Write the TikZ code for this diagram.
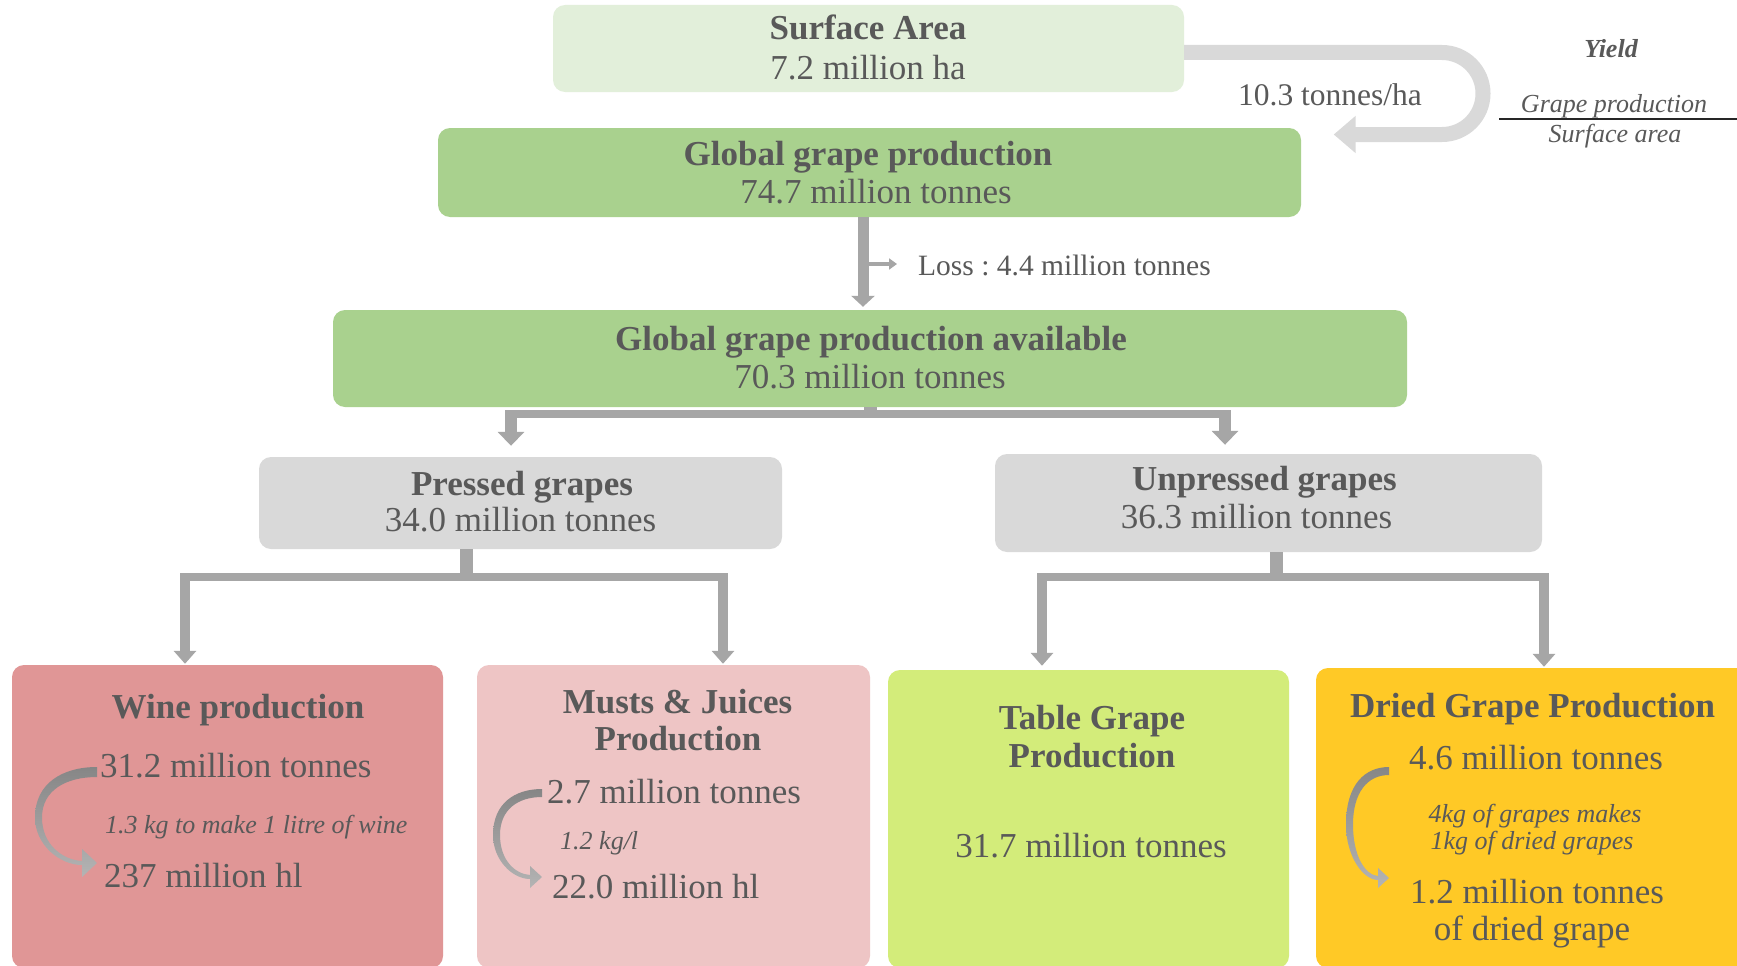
\documentclass[tikz,border=0pt]{standalone}
\usepackage{fontspec}
\setmainfont{Liberation Serif}
\usetikzlibrary{arrows.meta}
\frenchspacing
\definecolor{txt}{HTML}{595959}
\definecolor{csurf}{HTML}{E2EFDA}
\definecolor{cgreen}{HTML}{A9D18E}
\definecolor{cgray}{HTML}{D9D9D9}
\definecolor{cwine}{HTML}{E09696}
\definecolor{cmust}{HTML}{EEC5C5}
\definecolor{ctable}{HTML}{D3EC7A}
\definecolor{cdried}{HTML}{FFC926}
\definecolor{arrgray}{HTML}{A6A6A6}
\definecolor{udark}{HTML}{D9D9D9}
\definecolor{arrdark}{HTML}{868686}
\definecolor{arrlight}{HTML}{B4B4B4}
\newcommand\bendarr[7]{%
  \pgfmathsetmacro\bB{#1-#6}%
  \pgfmathsetmacro\bw{#1-#3}%
  \pgfmathsetmacro\bh{#4-#2}%
  \shade[top color=arrdark,bottom color=arrlight]
    (#1,#2-#7) .. controls (#3+0.45*\bw,#2-#7) and (#3,#2+0.12*\bh) .. (#3,#2+0.5*\bh)
    .. controls (#3,#2+0.8*\bh) and (#3+0.4*\bw,#4+2) .. (\bB,#4+2)
    -- (\bB,#4+#5) -- (#1,#4) -- (\bB,#4-#5) -- (\bB,#4-2)
    .. controls (#3+0.45*\bw,#4-3) and (#3+7,#2+0.8*\bh) .. (#3+7,#2+0.5*\bh)
    .. controls (#3+7,#2+0.2*\bh) and (#3+0.5*\bw,#2+#7) .. (#1,#2+#7) -- cycle;}
\tikzset{
  box/.style={rectangle, rounded corners=12pt, inner sep=0pt, draw=none},
  tx/.style={text=txt, inner sep=0pt, anchor=base, font=\fontsize{35}{40}\selectfont},
  tb/.style={tx, font=\fontsize{35}{40}\selectfont\bfseries},
  ti/.style={tx, font=\fontsize{26}{30}\selectfont\itshape},
  uturn/.style={draw=udark, line width=15pt, -{Triangle[width=36pt,length=22pt]}},
  lossarr/.style={draw=arrgray, line width=11pt, -{Triangle[width=23pt,length=11pt]}},
  smallarr/.style={draw=arrgray, line width=4.5pt, -{Triangle[width=11pt,length=8pt]}},
  barline/.style={draw=arrgray, line width=8pt},
  stubline/.style={draw=arrgray, line width=13pt},
  bigdown/.style={draw=arrgray, line width=12pt, -{Triangle[width=26pt,length=14pt]}},
  smalldown/.style={draw=arrgray, line width=10pt, -{Triangle[width=22pt,length=13pt]}},
}
\begin{document}
\begin{tikzpicture}[x=1pt,y=-1pt]
\useasboundingbox (0,0) rectangle (1737,966);
\clip (0,0) rectangle (1737,966);
\fill[white] (0,0) rectangle (1737,966);

% boxes
\node[box, fill=csurf, minimum width=631pt, minimum height=87pt] (surf) at (868.5,48.5) {};
\node[box, fill=cgreen, minimum width=863pt, minimum height=89pt] (glob) at (869.5,172.5) {};
\node[box, fill=cgreen, minimum width=1074pt, minimum height=97pt] (avail) at (870,358.5) {};
\node[box, fill=cgray, minimum width=523pt, minimum height=92pt] (press) at (520.5,503) {};
\node[box, fill=cgray, minimum width=547pt, minimum height=98pt] (unp) at (1268.5,503) {};
\node[box, fill=cwine, minimum width=431pt, minimum height=303pt] (wine) at (227.5,816.5) {};
\node[box, fill=cmust, minimum width=393pt, minimum height=303pt] (must) at (673.5,816.5) {};
\node[box, fill=ctable, minimum width=401pt, minimum height=298pt] (table) at (1088.5,819) {};
\node[box, fill=cdried, minimum width=444pt, minimum height=300pt] (dried) at (1538,818) {};

% texts in boxes
\node[tb] (surfT) at (868,40) {Surface Area};
\node[tx] (surfS) at (868,79) {7.2 million ha};
\node[tb] (globT) at (868,165) {Global grape production};
\node[tx] (globS) at (876,203) {74.7 million tonnes};
\node[tb] (availT) at (871,350) {Global grape production available};
\node[tx] (availS) at (870,388) {70.3 million tonnes};
\node[tb] (pressT) at (522,495) {Pressed grapes};
\node[tx] (pressS) at (520.5,531) {34.0 million tonnes};
\node[tb] (unpT) at (1264.5,490) {Unpressed grapes};
\node[tx] (unpS) at (1256.5,528) {36.3 million tonnes};

\node[tb] (wineT) at (238,718) {Wine production};
\node[tx, anchor=base west] (wine1) at (100,777) {31.2 million tonnes};
\node[ti, anchor=base west] (wineI) at (105,833) {1.3 kg to make 1 litre of wine};
\node[tx, anchor=base west] (wine2) at (104,887) {237 million hl};

\node[tb] (mustT1) at (677.5,713) {Musts \& Juices};
\node[tb] (mustT2) at (678,750) {Production};
\node[tx, anchor=base west] (must1) at (547,803) {2.7 million tonnes};
\node[ti, anchor=base west] (mustI) at (560,849) {1.2 kg/l};
\node[tx, anchor=base west] (must2) at (552,898) {22.0 million hl};

\node[tb] (tabT1) at (1092,729) {Table Grape};
\node[tb] (tabT2) at (1092,767) {Production};
\node[tx] (tabS) at (1091,857) {31.7 million tonnes};

\node[tb] (drT) at (1532.5,717) {Dried Grape Production};
\node[tx] (dr1) at (1536,769) {4.6 million tonnes};
\node[ti] (drI1) at (1535,822) {4kg of grapes makes};
\node[ti] (drI2) at (1532,849) {1kg of dried grapes};
\node[tx] (dr2) at (1537,903) {1.2 million tonnes};
\node[tx] (dr3) at (1532,940) {of dried grape};

% yield formula
\node[tx, font=\fontsize{26}{30}\selectfont\bfseries\itshape] (yield) at (1611,58) {Yield};
\node[ti] (yGP) at (1614,112) {Grape production};
\node[ti] (ySA) at (1615,142) {Surface area};
\coordinate (yl1) at (1499,119);
\coordinate (yl2) at (1737,119);
\draw[line width=1.3pt, draw=black!85] (yl1) -- (yl2);

% surface -> global U-turn
\draw[uturn, shorten >=32.5pt] (surf.east |- 0,52.5) -- (1442,52.5)
   arc[start angle=-90, end angle=90, radius=41] -- (glob.east |- 0,134.5);
\node[tx, font=\fontsize{31.5}{36}\selectfont] (yieldval) at (1330,105) {10.3 tonnes/ha};

% loss
\coordinate (lossx) at (863,0);
\draw[lossarr, shorten >=3pt] (lossx |- glob.south) -- (lossx |- avail.north);
\coordinate (lossst) at (868,264);
\coordinate (lossend) at (897,264);
\draw[smallarr] (lossst) -- (lossend);
\node[tx, anchor=base west, font=\fontsize{29.5}{34}\selectfont] (losslbl) at (918,275) {Loss : 4.4 million tonnes};

% available -> pressed / unpressed
\coordinate (aj) at (870,414);
\draw[stubline] (avail.south) -- (aj);
\coordinate (abl) at (505,414);
\coordinate (abr) at (1231,414);
\draw[barline] (abl) -- (abr);
\coordinate (apl) at (511,410);
\coordinate (apr) at (1225,410);
\draw[bigdown, shorten >=11pt] (apl) -- (apl |- press.north);
\draw[bigdown, shorten >=9pt] (apr) -- (apr |- unp.north);

% pressed -> wine / musts
\coordinate (pj) at (466,577);
\draw[stubline] (press.south -| pj) -- (pj);
\coordinate (pbl) at (180,577);
\coordinate (pbr) at (728,577);
\draw[barline] (pbl) -- (pbr);
\coordinate (ppl) at (185,573);
\coordinate (ppr) at (723,573);
\draw[smalldown, shorten >=1pt] (ppl) -- (ppl |- wine.north);
\draw[smalldown, shorten >=1pt] (ppr) -- (ppr |- must.north);

% unpressed -> table / dried
\coordinate (uj) at (1276,577);
\draw[stubline] (unp.south -| uj) -- (uj);
\coordinate (ubl) at (1037,577);
\coordinate (ubr) at (1549,577);
\draw[barline] (ubl) -- (ubr);
\coordinate (upl) at (1042,573);
\coordinate (upr) at (1544,573);
\draw[smalldown, shorten >=4pt] (upl) -- (upl |- table.north);
\draw[smalldown, shorten >=1pt] (upr) -- (upr |- dried.north);

% curved conversion arrows
\bendarr{97}{772}{35}{863}{14}{15}{5}
\bendarr{542}{793}{493}{877}{11}{12}{4}
\bendarr{1389}{771}{1346}{878}{10}{11}{4}
\end{tikzpicture}
\end{document}
